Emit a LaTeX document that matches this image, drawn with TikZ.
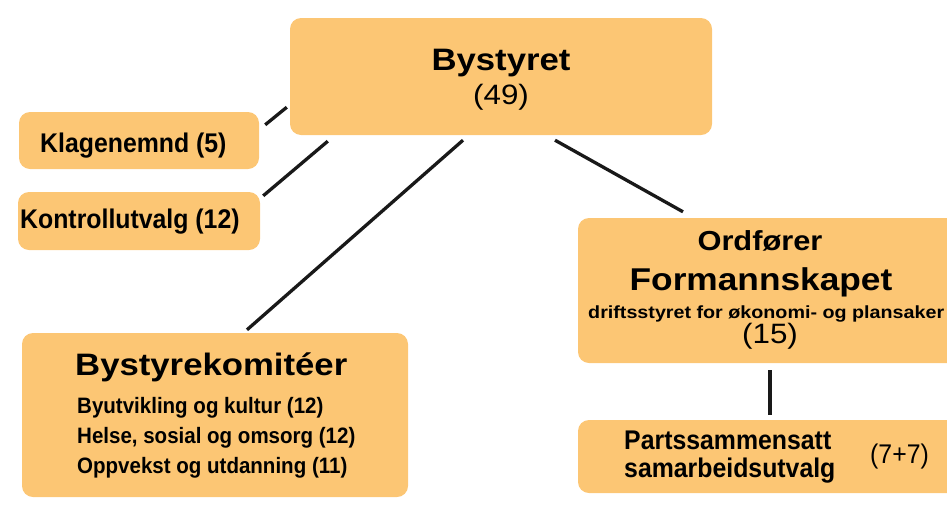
\documentclass[tikz,border=0pt]{standalone}
\usepackage{fontspec}
\setmainfont{Liberation Sans}
\newfontfamily\wideface[FakeStretch=1.12]{Liberation Sans}
\newfontfamily\narrowface[FakeStretch=0.92]{Liberation Sans}
\usetikzlibrary{positioning,calc}

\definecolor{boxfill}{RGB}{252,198,116}
\definecolor{linkcol}{RGB}{25,25,25}

\tikzset{
    orgbox/.style={fill=boxfill, rounded corners=11pt, inner sep=0pt},
    link/.style={draw=linkcol, line width=3.3pt},
    txt/.style={inner sep=0pt, anchor=base},
    txtl/.style={inner sep=0pt, anchor=base west}
}

\begin{document}
\begin{tikzpicture}[x=1pt, y=-1pt]
    \useasboundingbox (0,0) rectangle (947,504);

    % Boxes
    \node[orgbox, minimum width=422pt, minimum height=117pt] (bystyret) at (501,76.5) {};
    \node[orgbox, minimum width=240pt, minimum height=57pt] (klage) at (139,140.5) {};
    \node[orgbox, minimum width=242pt, minimum height=58pt] (kontroll) at (139,221) {};
    \node[orgbox, minimum width=386pt, minimum height=164pt] (komite) at (215,415) {};
    \node[orgbox, minimum width=384pt, minimum height=145pt] (formann) at (770,290.5) {};
    \node[orgbox, minimum width=384pt, minimum height=73pt] (parts) at (770,456.5) {};

    % Connectors
    \draw[link] ([xshift=6pt, yshift=-13pt]klage.north east) -- ([xshift=-3pt, yshift=28pt]bystyret.south west);
    \draw[link] ([xshift=3pt, yshift=-4pt]kontroll.north east) -- ([xshift=38pt, yshift=-6pt]bystyret.south west);
    \draw[link] ([xshift=32pt, yshift=3pt]komite.north) -- ([xshift=-38pt, yshift=-5pt]bystyret.south);
    \draw[link] ([xshift=54pt, yshift=-5pt]bystyret.south) -- ([xshift=-87pt, yshift=6pt]formann.north);
    \draw[link, shorten <=7pt, shorten >=5pt] (formann.south) -- (parts.north);

    % Texts
    \node[txt, font=\wideface\bfseries\fontsize{31}{34}\selectfont] at (501,70) {Bystyret};
    \node[txt, font=\wideface\fontsize{28}{30}\selectfont] at (501,104) {(49)};

    \node[txtl, font=\narrowface\bfseries\fontsize{27}{30}\selectfont] at (40,152) {Klagenemnd (5)};
    \node[txtl, font=\narrowface\bfseries\fontsize{27}{30}\selectfont] at (20,228) {Kontrollutvalg (12)};

    \node[txt, font=\wideface\bfseries\fontsize{27.5}{30}\selectfont] at (760,250) {Ordfører};
    \node[txt, font=\wideface\bfseries\fontsize{31.5}{34}\selectfont] at (761,290) {Formannskapet};
    \node[txtl, font=\wideface\bfseries\fontsize{17.6}{20}\selectfont] at (588,318) {driftsstyret for økonomi- og plansaker};
    \node[txt, font=\wideface\fontsize{28}{30}\selectfont] at (770,343) {(15)};

    \node[txtl, font=\wideface\bfseries\fontsize{31}{34}\selectfont] at (75,375) {Bystyrekomitéer};
    \node[txtl, font=\narrowface\bfseries\fontsize{22.3}{25}\selectfont] at (77,413) {Byutvikling og kultur (12)};
    \node[txtl, font=\narrowface\bfseries\fontsize{22.3}{25}\selectfont] at (77,443) {Helse, sosial og omsorg (12)};
    \node[txtl, font=\narrowface\bfseries\fontsize{22.3}{25}\selectfont] at (77,473) {Oppvekst og utdanning (11)};

    \node[txtl, font=\narrowface\bfseries\fontsize{27}{30}\selectfont] at (624,449) {Partssammensatt};
    \node[txtl, font=\narrowface\bfseries\fontsize{27}{30}\selectfont] at (624,477) {samarbeidsutvalg};
    \node[txtl, font=\narrowface\fontsize{27}{30}\selectfont] at (870,463) {(7+7)};
\end{tikzpicture}
\end{document}
